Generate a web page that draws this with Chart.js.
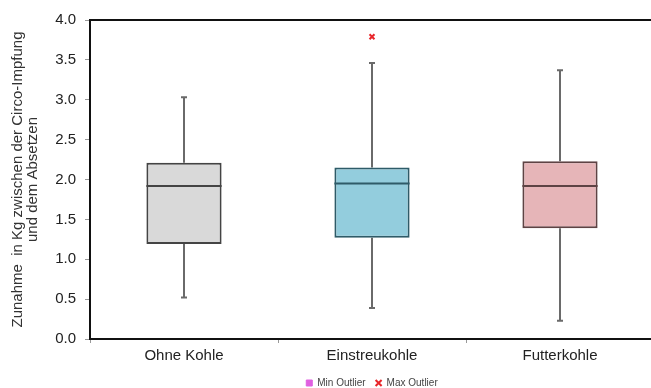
<!DOCTYPE html>
<html>
<head>
<meta charset="utf-8">
<script src="https://cdn.jsdelivr.net/npm/chart.js@4/dist/chart.umd.min.js"></script>
<style>
  html, body { margin: 0; padding: 0; background: #fff; overflow: hidden; }
  #wrap { position: absolute; left: 0; top: 0; width: 660px; height: 388px; }
</style>
</head>
<body>
<div id="wrap"><canvas id="boxChart"></canvas></div>
<script>
// Gruppen und Kennwerte der Boxplots (kg)
const groups = ['Ohne Kohle', 'Einstreukohle', 'Futterkohle'];
const minValues = [0.52, 0.39, 0.23];
const q1Values = [1.19, 1.27, 1.39];
const medianValues = [1.92, 1.95, 1.92];
const q3Values = [2.21, 2.15, 2.23];
const maxValues = [3.03, 3.46, 3.37];
const minOutliers = [null, null, null];
const maxOutliers = [null, 3.79, null];
const yTicks = [0, 0.5, 1, 1.5, 2, 2.5, 3, 3.5, 4];

const boxFill = ['#d9d9d9', '#93cddd', '#e6b5b8'];
const boxLine = ['#444444', '#2e5b68', '#5e4344'];

// Whiskers, caps and median lines drawn on top of the floating bars
const boxExtras = {
    id: 'boxExtras',
    beforeDatasetsDraw(chart) {
        const { ctx, scales: { x, y } } = chart;
        ctx.save();
        ctx.strokeStyle = '#6a6a6a';
        ctx.lineWidth = 2;
        groups.forEach((g, i) => {
            const cx = x.getPixelForValue(i);
            ctx.beginPath();
            ctx.moveTo(cx, y.getPixelForValue(q3Values[i]));
            ctx.lineTo(cx, y.getPixelForValue(maxValues[i]));
            ctx.moveTo(cx, y.getPixelForValue(q1Values[i]));
            ctx.lineTo(cx, y.getPixelForValue(minValues[i]));
            ctx.stroke();
            ctx.beginPath();
            ctx.moveTo(cx - 3, y.getPixelForValue(maxValues[i]));
            ctx.lineTo(cx + 3, y.getPixelForValue(maxValues[i]));
            ctx.moveTo(cx - 3, y.getPixelForValue(minValues[i]));
            ctx.lineTo(cx + 3, y.getPixelForValue(minValues[i]));
            ctx.stroke();
        });
        ctx.restore();
    },
    afterDatasetsDraw(chart) {
        const { ctx, chartArea, scales: { x, y } } = chart;
        const meta = chart.getDatasetMeta(0);
        ctx.save();
        ctx.lineWidth = 2;
        groups.forEach((g, i) => {
            const bar = meta.data[i];
            const half = bar.width / 2;
            const my = y.getPixelForValue(medianValues[i]);
            ctx.strokeStyle = boxLine[i];
            ctx.beginPath();
            ctx.moveTo(bar.x - half, my);
            ctx.lineTo(bar.x + half, my);
            ctx.stroke();
        });
        // top frame line
        ctx.strokeStyle = '#111';
        ctx.beginPath();
        ctx.moveTo(chartArea.left, chartArea.top);
        ctx.lineTo(chartArea.right, chartArea.top);
        ctx.stroke();
        ctx.restore();
    }
};

new Chart(document.getElementById('boxChart'), {
    data: {
        labels: groups,
        datasets: [{
            type: 'bar',
            label: 'Box',
            data: groups.map((g, i) => [q1Values[i], q3Values[i]]),
            backgroundColor: boxFill,
            borderColor: boxLine,
            borderWidth: 2,
            borderSkipped: false,
            barPercentage: 0.4,
            categoryPercentage: 1,
            order: 2
        }, {
            type: 'line',
            label: 'Min Outlier',
            data: minOutliers,
            showLine: false,
            pointStyle: 'rect',
            pointRadius: 3,
            backgroundColor: '#e060e0',
            borderColor: '#e060e0',
            order: 1
        }, {
            type: 'line',
            label: 'Max Outlier',
            data: maxOutliers,
            showLine: false,
            pointStyle: 'crossRot',
            pointRadius: 3.5,
            borderWidth: 2,
            backgroundColor: '#e8262a',
            borderColor: '#e8262a',
            order: 1
        }]
    },
    options: {
        responsive: true,
        maintainAspectRatio: false,
        animation: false,
        layout: { padding: { left: 10, right: 0, top: 20, bottom: -10 } },
        plugins: {
            tooltip: { enabled: false },
            legend: {
                position: 'bottom',
                fullSize: false,
                labels: {
                    filter: item => item.text !== 'Box',
                    usePointStyle: true,
                    boxWidth: 6,
                    boxHeight: 6,
                    padding: 10,
                    color: '#444',
                    font: { family: 'Liberation Sans, Arial', size: 10 }
                }
            }
        },
        scales: {
            x: {
                offset: true,
                grid: { display: true, drawOnChartArea: false, tickLength: 4, color: '#999', offset: true },
                border: { display: true, color: '#111', width: 2 },
                ticks: {
                    color: '#222',
                    padding: 3.5,
                    font: { family: 'Liberation Sans, Arial', size: 15 }
                }
            },
            y: {
                min: 0,
                max: 4,
                afterBuildTicks: s => { s.ticks = yTicks.map(v => ({ value: v })); },
                afterFit: s => { s.width = 80; },
                grid: { display: true, drawOnChartArea: false, tickLength: 5, color: '#999' },
                border: { display: true, color: '#111', width: 2 },
                ticks: {
                    color: '#222',
                    padding: 9,
                    callback: v => v.toFixed(1),
                    font: { family: 'Liberation Sans, Arial', size: 15 }
                },
                title: {
                    display: true,
                    text: ['Zunahme  in Kg zwischen der Circo-Impfung', 'und dem Absetzen'],
                    color: '#333',
                    padding: 0,
                    font: { family: 'Liberation Sans, Arial', size: 15, lineHeight: 1.0 }
                }
            }
        }
    },
    plugins: [boxExtras]
});
</script>
</body>
</html>
